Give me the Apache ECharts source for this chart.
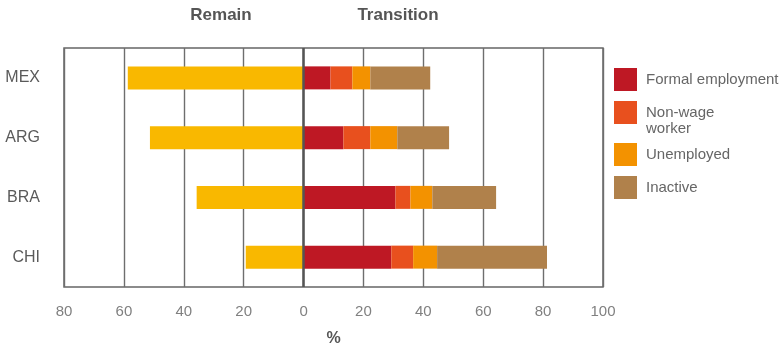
<!DOCTYPE html>
<html>
<head>
<meta charset="utf-8">
<script src="https://cdn.jsdelivr.net/npm/echarts@6/dist/echarts.min.js"></script>
<style>
  html, body { margin: 0; padding: 0; background: #fff; }
  #chart { width: 784px; height: 346px; }
</style>
</head>
<body>
<div id="chart"></div>
<script>
// Countries shown top to bottom
const countries = ['MEX', 'ARG', 'BRA', 'CHI'];

// Share that remains (plotted to the left of zero)
const remain = [-58.7, -51.3, -35.7, -19.3];

// Transition outcomes (stacked to the right of zero)
const formalEmployment = [9.0, 13.3, 30.7, 29.3];
const nonWageWorker = [7.3, 9.0, 5.0, 7.3];
const unemployed = [6.0, 9.0, 7.3, 8.0];
const inactive = [20.0, 17.3, 21.3, 36.7];

const xTicks = { min: -80, max: 100, step: 20 };

const colors = {
  remain: '#F9B800',
  formal: '#BE1824',
  nonwage: '#E8501E',
  unemployed: '#F39200',
  inactive: '#B0814B'
};

const textFont = 'Liberation Sans, Arial, sans-serif';
const headFont = 'Liberation Sans Narrow, Liberation Sans, sans-serif';

function barSeries(name, data, color) {
  return {
    name: name,
    type: 'bar',
    stack: 'all',
    barWidth: 23,
    data: data,
    itemStyle: { color: color },
    emphasis: { disabled: true }
  };
}

const legendText = { color: '#666', fontSize: 15, fontFamily: textFont, padding: [0, 0, 0, 4] };

function legendFor(name, top, extra) {
  return Object.assign({
    data: [name],
    orient: 'vertical',
    left: 614,
    top: top,
    padding: 0,
    icon: 'rect',
    itemWidth: 23,
    itemHeight: 23,
    itemGap: 0,
    selectedMode: false,
    textStyle: legendText
  }, extra || {});
}

const headStyle = { color: '#555', fontSize: 17, fontWeight: 'bold', fontFamily: headFont };

const chart = echarts.init(document.getElementById('chart'));
chart.setOption({
  animation: false,
  title: [
    { text: 'Remain', left: 216, top: 2, textAlign: 'center', textStyle: headStyle },
    { text: 'Transition', left: 393, top: 2, textAlign: 'center', textStyle: headStyle },
    // second line of the "Non-wage worker" legend entry
    { text: 'worker', left: 646, top: 121, padding: [0, 0, 0, 0],
      textStyle: { color: '#666', fontSize: 15, fontWeight: 'normal', fontFamily: textFont } }
  ],
  grid: {
    left: 64, right: 181, top: 48, bottom: 59,
    outerBoundsMode: 'none',
    show: true, borderColor: '#666', borderWidth: 1.5, backgroundColor: '#fff'
  },
  legend: [
    legendFor('Formal employment', 68),
    legendFor('Non-wage worker', 101, {
      formatter: () => 'Non-wage',
      textStyle: Object.assign({}, legendText, { padding: [0, 0, 6, 4] })
    }),
    legendFor('Unemployed', 143),
    legendFor('Inactive', 176)
  ],
  xAxis: {
    type: 'value',
    min: xTicks.min,
    max: xTicks.max,
    interval: xTicks.step,
    name: '%',
    nameLocation: 'middle',
    nameGap: 44,
    nameTextStyle: { color: '#555', fontSize: 16, fontWeight: 'bold', fontFamily: textFont },
    axisLine: { show: false },
    axisTick: { show: false },
    axisLabel: {
      color: '#808080', fontSize: 15, fontFamily: textFont, margin: 17,
      formatter: v => String(Math.abs(v))
    },
    splitLine: { show: true, lineStyle: { color: '#6e6e6e', width: 1.4 } }
  },
  yAxis: {
    type: 'category',
    data: countries,
    inverse: true,
    axisLine: { show: false },
    axisTick: { show: false },
    axisLabel: { color: '#5a5a5a', fontSize: 16, fontFamily: textFont, margin: 24 }
  },
  series: [
    Object.assign(barSeries('Remain', remain, colors.remain), {
      markLine: {
        silent: true,
        symbol: 'none',
        label: { show: false },
        lineStyle: { color: '#555', width: 2.5, type: 'solid' },
        data: [{ xAxis: 0 }]
      }
    }),
    barSeries('Formal employment', formalEmployment, colors.formal),
    barSeries('Non-wage worker', nonWageWorker, colors.nonwage),
    barSeries('Unemployed', unemployed, colors.unemployed),
    barSeries('Inactive', inactive, colors.inactive)
  ]
});
</script>
</body>
</html>
